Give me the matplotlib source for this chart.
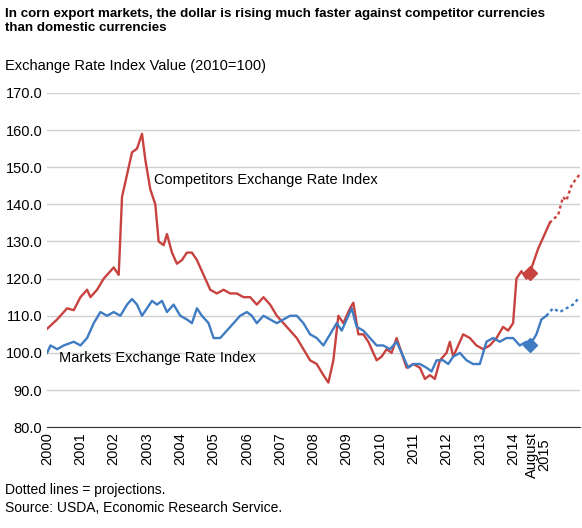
import numpy as np
import matplotlib.pyplot as plt

plt.rcParams["font.family"] = ["Liberation Sans", "DejaVu Sans"]

# competitor currencies index (solid, then projection)
comp_x = [2000.0, 2000.3, 2000.6, 2000.8, 2001.0, 2001.2, 2001.3, 2001.5, 2001.7, 2001.9, 2002.0, 2002.15,
          2002.25, 2002.4, 2002.55, 2002.7, 2002.85, 2002.95, 2003.1, 2003.25, 2003.35, 2003.5, 2003.6, 2003.75,
          2003.9, 2004.05, 2004.2, 2004.35, 2004.5, 2004.7, 2004.9, 2005.1, 2005.3, 2005.5, 2005.7, 2005.9,
          2006.1, 2006.3, 2006.5, 2006.7, 2006.9, 2007.1, 2007.3, 2007.5, 2007.7, 2007.9, 2008.1, 2008.3,
          2008.45, 2008.6, 2008.75, 2008.9, 2009.1, 2009.2, 2009.35, 2009.5, 2009.65, 2009.8, 2009.9, 2010.05,
          2010.2, 2010.35, 2010.5, 2010.65, 2010.8, 2011.0, 2011.2, 2011.35, 2011.5, 2011.65, 2011.8, 2012.0,
          2012.1, 2012.2, 2012.35, 2012.5, 2012.7, 2012.9, 2013.1, 2013.3, 2013.5, 2013.7, 2013.85, 2014.0,
          2014.1, 2014.25, 2014.4, 2014.5, 2014.75, 2014.9, 2015.1]
comp_y = [106.5, 109, 112, 111.5, 115, 117, 115, 117, 120, 122, 123, 121,
          142, 148, 154, 155, 159, 152, 144, 140, 130, 129, 132, 127,
          124, 125, 127, 127, 125, 121, 117, 116, 117, 116, 116, 115,
          115, 113, 115, 113, 110, 108, 106, 104, 101, 98, 97, 94,
          92, 98, 110, 108, 112, 113.5, 105, 105, 103, 100, 98, 99,
          101, 100, 104, 100, 96, 97, 96, 93, 94, 93, 98, 100,
          103, 99, 102, 105, 104, 102, 101, 102, 104, 107, 106, 108,
          120, 122, 120, 121.5, 128, 131, 135]
comp_proj_x = [2015.1, 2015.2, 2015.35, 2015.5, 2015.6, 2015.75, 2015.9, 2016.0]
comp_proj_y = [135, 136, 137, 142, 141, 145, 147, 148]

# markets currencies index
mkt_x = [2000.0, 2000.1, 2000.3, 2000.5, 2000.8, 2001.0, 2001.2, 2001.4, 2001.6, 2001.8, 2002.0, 2002.2,
         2002.4, 2002.55, 2002.7, 2002.85, 2003.0, 2003.15, 2003.3, 2003.45, 2003.6, 2003.8, 2004.0, 2004.2,
         2004.35, 2004.5, 2004.65, 2004.85, 2005.0, 2005.2, 2005.4, 2005.6, 2005.8, 2006.0, 2006.15, 2006.3,
         2006.5, 2006.7, 2006.9, 2007.1, 2007.3, 2007.5, 2007.7, 2007.9, 2008.1, 2008.3, 2008.5, 2008.7,
         2008.85, 2009.0, 2009.15, 2009.3, 2009.5, 2009.7, 2009.9, 2010.1, 2010.3, 2010.5, 2010.7, 2010.85,
         2011.0, 2011.2, 2011.4, 2011.55, 2011.7, 2011.9, 2012.05, 2012.2, 2012.4, 2012.6, 2012.8, 2013.0,
         2013.2, 2013.4, 2013.6, 2013.8, 2014.0, 2014.2, 2014.4, 2014.5, 2014.7, 2014.85, 2015.0]
mkt_y = [100, 102, 101, 102, 103, 102, 104, 108, 111, 110, 111, 110,
         113, 114.5, 113, 110, 112, 114, 113, 114, 111, 113, 110, 109,
         108, 112, 110, 108, 104, 104, 106, 108, 110, 111, 110, 108,
         110, 109, 108, 109, 110, 110, 108, 105, 104, 102, 105, 108,
         106, 109, 112, 107, 106, 104, 102, 102, 101, 103, 99, 96,
         97, 97, 96, 95, 98, 98, 97, 99, 100, 98, 97, 97,
         103, 104, 103, 104, 104, 102, 103, 102, 105, 109, 110]
mkt_proj_x = [2015.0, 2015.2, 2015.4, 2015.6, 2015.8, 2016.0]
mkt_proj_y = [110, 112, 111, 112, 113, 115]

diamond_x = 2014.5
comp_diamond = 121.5
mkt_diamond = 102

years = list(range(2000, 2015))
yticks = np.arange(80, 171, 10)

RED = "#c8423f"
BLUE = "#3f7cc2"

fig = plt.figure(figsize=(5.82, 5.28), dpi=100)
ax = fig.add_axes([0.081, 0.191, 0.915, 0.633])

ax.plot(comp_x, comp_y, color=RED, lw=1.7)
ax.plot(comp_proj_x, comp_proj_y, color=RED, lw=1.7, ls=(0, (1.3, 1.3)))
ax.plot(mkt_x, mkt_y, color=BLUE, lw=1.7)
ax.plot(mkt_proj_x, mkt_proj_y, color=BLUE, lw=1.7, ls=(0, (1.3, 1.3)))
ax.plot([diamond_x], [comp_diamond], marker="D", color=RED, ms=7)
ax.plot([diamond_x], [mkt_diamond], marker="D", color=BLUE, ms=7)

ax.text(2003.2, 146.5, "Competitors Exchange Rate Index", fontsize=10.5, va="center")
ax.text(2000.35, 98.5, "Markets Exchange Rate Index", fontsize=10.5, va="center")

ax.set_xlim(2000, 2016)
ax.set_ylim(80, 170)
ax.set_yticks(yticks)
ax.set_yticklabels([f"{v:.1f}" for v in yticks], fontsize=10.5)
ax.yaxis.grid(True, color="#d0d0d0", lw=1)
ax.set_axisbelow(True)
ax.tick_params(axis="y", length=0)
ax.set_xticks(years + [2014.75])
ax.set_xticklabels([str(y) for y in years] + ["August\n2015"], rotation=90, fontsize=10.5,
                   linespacing=0.85)
ax.tick_params(axis="x", length=0)
for s in ["top", "right", "left"]:
    ax.spines[s].set_visible(False)
ax.spines["bottom"].set_color("#333333")

fig.text(0.008, 0.985, "In corn export markets, the dollar is rising much faster against competitor currencies\nthan domestic currencies",
         fontsize=9.6, fontweight="bold", va="top", linespacing=1.2)
fig.text(0.008, 0.875, "Exchange Rate Index Value (2010=100)", fontsize=10.5, va="center")
fig.text(0.008, 0.055, "Dotted lines = projections.\nSource: USDA, Economic Research Service.",
         fontsize=10, va="center", linespacing=1.3)

fig.savefig("out.png", dpi=100)
